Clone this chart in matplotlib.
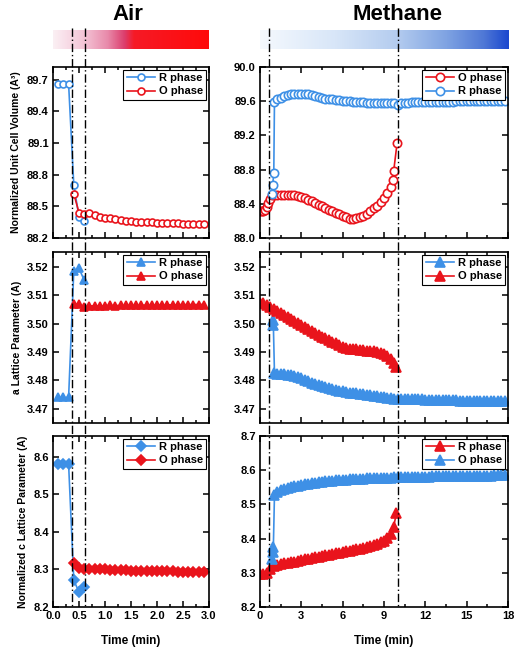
import matplotlib

matplotlib.use("Agg")
import matplotlib.pyplot as plt
import numpy as np
from matplotlib.colors import LinearSegmentedColormap
from matplotlib.lines import Line2D
from matplotlib.ticker import MultipleLocator
import matplotlib.transforms as mtransforms

plt.rcParams["font.family"] = ["Liberation Sans", "DejaVu Sans"]
plt.rcParams["font.weight"] = "bold"
plt.rcParams["axes.labelweight"] = "bold"

BLUE = "#3e90e6"
RED = "#e9141c"

# ---------------- Air (left column) ----------------
AIR_T_R = [0.1, 0.2, 0.3, 0.4, 0.5, 0.6]
AIR_T_O = [0.4, 0.5, 0.6, 0.7, 0.8, 0.9, 1.0, 1.1, 1.2, 1.3, 1.4, 1.5, 1.6,
           1.7, 1.8, 1.9, 2.0, 2.1, 2.2, 2.3, 2.4, 2.5, 2.6, 2.7, 2.8, 2.9]

AIR_VOL_R = [89.66, 89.66, 89.66, 88.70, 88.40, 88.36]
AIR_VOL_O = [88.62, 88.44, 88.43, 88.44, 88.42, 88.40, 88.39, 88.385, 88.38,
             88.37, 88.365, 88.36, 88.355, 88.355, 88.35, 88.35, 88.345,
             88.345, 88.34, 88.34, 88.34, 88.335, 88.335, 88.335, 88.33, 88.33]

AIR_A_R = [3.4740, 3.4740, 3.4740, 3.5186, 3.5194, 3.5153]
AIR_A_O = [3.5070, 3.5068, 3.5060, 3.5062, 3.5063, 3.5062, 3.5063, 3.5064,
           3.5063, 3.5064, 3.5064, 3.5065, 3.5064, 3.5065, 3.5065, 3.5065,
           3.5066, 3.5065, 3.5066, 3.5066, 3.5066, 3.5067, 3.5066, 3.5067,
           3.5067, 3.5067]

AIR_C_R = [8.580, 8.580, 8.580, 8.271, 8.240, 8.253]
AIR_C_O = [8.318, 8.305, 8.302, 8.302, 8.301, 8.300, 8.300, 8.299, 8.299,
           8.298, 8.298, 8.297, 8.297, 8.297, 8.296, 8.296, 8.296, 8.295,
           8.295, 8.295, 8.294, 8.294, 8.294, 8.293, 8.293, 8.292]

# ---------------- Methane (right column) ----------------
T_DENSE = [1.25, 1.5, 1.75, 2.0, 2.25, 2.5, 2.75, 3.0, 3.25, 3.5, 3.75, 4.0,
           4.25, 4.5, 4.75, 5.0, 5.25, 5.5, 5.75, 6.0, 6.25, 6.5, 6.75, 7.0,
           7.25, 7.5, 7.75, 8.0, 8.25, 8.5, 8.75, 9.0, 9.25, 9.5, 9.75, 10.0,
           10.25, 10.5, 10.75, 11.0, 11.25, 11.5, 11.75, 12.0, 12.25, 12.5,
           12.75, 13.0, 13.25, 13.5, 13.75, 14.0, 14.25, 14.5, 14.75, 15.0,
           15.25, 15.5, 15.75, 16.0, 16.25, 16.5, 16.75, 17.0, 17.25, 17.5,
           17.75]

# unit cell volume
CH4_VOL_R_T0 = [0.85, 0.92, 1.0, 1.05]
CH4_VOL_R_V0 = [88.52, 88.62, 88.76, 89.59]
CH4_VOL_R = [89.62, 89.64, 89.66, 89.67, 89.68, 89.69, 89.69, 89.69, 89.69,
             89.68, 89.67, 89.66, 89.65, 89.64, 89.63, 89.62, 89.62, 89.61,
             89.61, 89.60, 89.60, 89.60, 89.59, 89.59, 89.59, 89.585, 89.58,
             89.58, 89.58, 89.58, 89.58, 89.575, 89.575, 89.575, 89.575,
             89.56, 89.58, 89.58, 89.58, 89.585, 89.585, 89.585, 89.59, 89.59,
             89.59, 89.59, 89.59, 89.595, 89.595, 89.595, 89.595, 89.595,
             89.60, 89.60, 89.60, 89.60, 89.60, 89.60, 89.60, 89.60, 89.60,
             89.60, 89.60, 89.60, 89.60, 89.60, 89.60]

CH4_VOL_O_T0 = [0.0, 0.12, 0.25, 0.36, 0.5, 0.6, 0.75, 0.85, 1.0]
CH4_VOL_O_V0 = [88.31, 88.31, 88.32, 88.33, 88.36, 88.41, 88.46, 88.50, 88.50]
CH4_VOL_O = [88.50, 88.505, 88.505, 88.505, 88.50, 88.50, 88.49, 88.48,
             88.47, 88.45, 88.43, 88.41, 88.39, 88.37, 88.35, 88.33, 88.31,
             88.29, 88.28, 88.26, 88.24, 88.225, 88.225, 88.23, 88.245, 88.26,
             88.28, 88.31, 88.35, 88.38, 88.42, 88.47, 88.53, 88.60]
CH4_VOL_O_T1 = [9.62, 9.7, 9.95]
CH4_VOL_O_V1 = [88.68, 88.78, 89.11]

# a lattice parameter
CH4_A_R_T0 = [0.92, 0.97, 1.05]
CH4_A_R_V0 = [3.5012, 3.4994, 3.4826]
CH4_A_R = [3.4824, 3.4822, 3.4821, 3.4820, 3.4818, 3.4816, 3.4812, 3.4808,
           3.4803, 3.4797, 3.4792, 3.4787, 3.4783, 3.4779, 3.4776, 3.4772,
           3.4769, 3.4766, 3.4763, 3.4761, 3.4759, 3.4757, 3.4755, 3.4754,
           3.4752, 3.4751, 3.4749, 3.4748, 3.4746, 3.4745, 3.4743, 3.4741,
           3.4739, 3.4737, 3.4736, 3.4735, 3.4735, 3.4734, 3.4734, 3.4734,
           3.4733, 3.4733, 3.4733, 3.4732, 3.4732, 3.4732, 3.4731, 3.4731,
           3.4731, 3.4730, 3.4730, 3.4730, 3.4730, 3.4729, 3.4729, 3.4729,
           3.4729, 3.4728, 3.4728, 3.4728, 3.4728, 3.4728, 3.4727, 3.4727,
           3.4727, 3.4727, 3.4727]

CH4_A_O_T0 = [0.0, 0.25, 0.5, 0.75, 1.0]
CH4_A_O_V0 = [3.5073, 3.5071, 3.5065, 3.5057, 3.5050]
CH4_A_O = [3.5043, 3.5036, 3.5029, 3.5022, 3.5016, 3.5010, 3.5003, 3.4996,
           3.4989, 3.4982, 3.4975, 3.4968, 3.4961, 3.4954, 3.4948, 3.4942,
           3.4936, 3.4930, 3.4924, 3.4919, 3.4915, 3.4912, 3.4910, 3.4909,
           3.4908, 3.4907, 3.4905, 3.4904, 3.4902, 3.4899, 3.4896, 3.4892,
           3.4886, 3.4876]
CH4_A_O_T1 = [9.7, 9.9]
CH4_A_O_V1 = [3.4862, 3.4847]

# c lattice parameter
CH4_C_R_T0 = [0.0, 0.25, 0.5, 0.75, 1.0]
CH4_C_R_V0 = [8.297, 8.297, 8.298, 8.310, 8.320]
CH4_C_R = [8.324, 8.326, 8.328, 8.330, 8.332, 8.333, 8.335, 8.337, 8.339,
           8.341, 8.343, 8.345, 8.347, 8.349, 8.351, 8.353, 8.355, 8.357,
           8.359, 8.361, 8.363, 8.365, 8.367, 8.369, 8.371, 8.373, 8.376,
           8.379, 8.382, 8.385, 8.389, 8.394, 8.401, 8.412]
CH4_C_R_T1 = [9.7, 9.9]
CH4_C_R_V1 = [8.435, 8.474]

CH4_C_O_T0 = [0.85, 0.92, 0.97, 1.05]
CH4_C_O_V0 = [8.341, 8.360, 8.376, 8.527]
CH4_C_O = [8.535, 8.542, 8.545, 8.548, 8.551, 8.553, 8.555, 8.557, 8.559,
           8.561, 8.562, 8.564, 8.565, 8.566, 8.567, 8.568, 8.569, 8.570,
           8.571, 8.572, 8.572, 8.573, 8.574, 8.574, 8.575, 8.575, 8.576,
           8.576, 8.577, 8.577, 8.577, 8.578, 8.578, 8.578, 8.579, 8.579,
           8.579, 8.580, 8.580, 8.580, 8.580, 8.581, 8.581, 8.581, 8.581,
           8.582, 8.582, 8.582, 8.582, 8.582, 8.583, 8.583, 8.583, 8.583,
           8.583, 8.583, 8.584, 8.584, 8.584, 8.584, 8.584, 8.584, 8.584,
           8.585, 8.585, 8.585, 8.585]

AIR_EVENTS = [0.37, 0.62]
CH4_EVENTS = [0.65, 10.0]


def serie(t0, v0, vals, t1=(), v1=()):
    t = list(t0) + T_DENSE[:len(vals)] + list(t1)
    v = list(v0) + list(vals) + list(v1)
    return t, v


def estilo_ejes(ax, xmax, xmaj, xmin_, ylim, ymaj, fmt, xlabels):
    ax.set_xlim(0, xmax)
    ax.set_ylim(*ylim)
    ax.xaxis.set_major_locator(MultipleLocator(xmaj))
    ax.xaxis.set_minor_locator(MultipleLocator(xmin_))
    ax.yaxis.set_major_locator(MultipleLocator(ymaj))
    ax.tick_params(which="both", direction="in", top=True, right=True,
                   labelsize=8, width=1.1, pad=3)
    ax.tick_params(which="major", length=4)
    ax.tick_params(which="minor", length=2.5)
    ax.yaxis.set_major_formatter(plt.FormatStrFormatter(fmt))
    if xlabels:
        ax.xaxis.set_major_formatter(plt.FormatStrFormatter(xlabels))
        ax.set_xlabel("Time (min)", fontsize=8.5, labelpad=10)
    else:
        ax.tick_params(labelbottom=False)
    for s in ax.spines.values():
        s.set_linewidth(1.2)


def leyenda(ax):
    ax.legend(loc="upper right", fontsize=8, frameon=True, fancybox=False,
              edgecolor="black", framealpha=1, handlelength=2.6,
              borderpad=0.3, labelspacing=0.3, handletextpad=0.3,
              borderaxespad=0.25).get_frame().set_linewidth(0.8)


fig = plt.figure(figsize=(5.2, 6.51), dpi=100)
W, H = 520.0, 651.0
filas = [(67, 238), (252, 423), (436, 607)]
col_izq = (53, 209)
col_der = (260, 508)


def crear(col, fila):
    x0, x1 = col
    y0, y1 = fila
    return fig.add_axes([x0 / W, 1 - y1 / H, (x1 - x0) / W, (y1 - y0) / H])


kw_o = dict(lw=1.2, mew=1.2)

# --- Air volume
ax = crear(col_izq, filas[0])
ax.plot(AIR_T_R, AIR_VOL_R, "-o", color=BLUE, mfc="white", ms=5, label="R phase", **kw_o)
ax.plot(AIR_T_O, AIR_VOL_O, "-o", color=RED, mfc="white", ms=5, label="O phase", **kw_o)
estilo_ejes(ax, 3.0, 0.5, 0.25, (88.2, 89.82), 0.3, "%.1f", None)
ax.set_ylabel("Normalized Unit Cell Volume (A\u00b3)", fontsize=7.5, labelpad=4)
leyenda(ax)

# --- Air a
ax = crear(col_izq, filas[1])
ax.plot(AIR_T_R, AIR_A_R, "-^", color=BLUE, ms=6, label="R phase", **kw_o)
ax.plot(AIR_T_O, AIR_A_O, "-^", color=RED, ms=6, label="O phase", **kw_o)
estilo_ejes(ax, 3.0, 0.5, 0.25, (3.465, 3.5252), 0.01, "%.2f", None)
ax.set_ylabel("a Lattice Parameter (A)", fontsize=7.5, labelpad=4)
leyenda(ax)

# --- Air c
ax = crear(col_izq, filas[2])
ax.plot(AIR_T_R, AIR_C_R, "-D", color=BLUE, ms=5, label="R phase", **kw_o)
ax.plot(AIR_T_O, AIR_C_O, "-D", color=RED, ms=5, label="O phase", **kw_o)
estilo_ejes(ax, 3.0, 0.5, 0.25, (8.2, 8.655), 0.1, "%.1f", "%.1f")
ax.set_ylabel("Normalized c Lattice Parameter (A)", fontsize=7.5, labelpad=4)
leyenda(ax)
ax_air_bot = ax

# --- Methane volume
ax = crear(col_der, filas[0])
t, v = serie(CH4_VOL_O_T0, CH4_VOL_O_V0, CH4_VOL_O, CH4_VOL_O_T1, CH4_VOL_O_V1)
ax.plot(t, v, "-o", color=RED, mfc="white", ms=6, label="O phase", **kw_o)
t, v = serie(CH4_VOL_R_T0, CH4_VOL_R_V0, CH4_VOL_R)
ax.plot(t, v, "-o", color=BLUE, mfc="white", ms=6, label="R phase", **kw_o)
estilo_ejes(ax, 18, 3, 1.5, (88.0, 90.0), 0.4, "%.1f", None)
leyenda(ax)
ax_ch4_top = ax

# --- Methane a
ax = crear(col_der, filas[1])
t, v = serie(CH4_A_R_T0, CH4_A_R_V0, CH4_A_R)
ax.plot(t, v, "-^", color=BLUE, ms=7, label="R phase", **kw_o)
t, v = serie(CH4_A_O_T0, CH4_A_O_V0, CH4_A_O, CH4_A_O_T1, CH4_A_O_V1)
ax.plot(t, v, "-^", color=RED, ms=7, label="O phase", **kw_o)
estilo_ejes(ax, 18, 3, 1.5, (3.465, 3.5252), 0.01, "%.2f", None)
leyenda(ax)

# --- Methane c
ax = crear(col_der, filas[2])
t, v = serie(CH4_C_R_T0, CH4_C_R_V0, CH4_C_R, CH4_C_R_T1, CH4_C_R_V1)
ax.plot(t, v, "-^", color=RED, ms=7, label="R phase", **kw_o)
t, v = serie(CH4_C_O_T0, CH4_C_O_V0, CH4_C_O)
ax.plot(t, v, "-^", color=BLUE, ms=7, label="O phase", **kw_o)
estilo_ejes(ax, 18, 3, 1.5, (8.2, 8.7), 0.1, "%.1f", "%d")
leyenda(ax)

# --- gradient bars
cmap_air = LinearSegmentedColormap.from_list(
    "air", [(0.0, "#fbf0f4"), (0.2, "#f4c4d6"), (0.35, "#e88aaa"),
            (0.46, "#dc3d6c"), (0.52, "#f61a26"), (1.0, "#ff0a0a")])
cmap_ch4 = LinearSegmentedColormap.from_list(
    "ch4", [(0.0, "#f5f9fe"), (0.3, "#d8e6f8"), (0.55, "#b4ccef"),
            (0.75, "#7fa3e2"), (0.9, "#4f78d6"), (1.0, "#1b48cf")])
grad = np.linspace(0, 1, 256).reshape(1, -1)
for (x0, x1), cmap, titulo, tx in [(col_izq, cmap_air, "Air", 128),
                                   (col_der, cmap_ch4, "Methane", 397)]:
    bar = fig.add_axes([x0 / W, 1 - 49 / H, (x1 - x0) / W, 19 / H])
    bar.imshow(grad, aspect="auto", cmap=cmap)
    bar.axis("off")
    fig.text(tx / W, 1 - 14 / H, titulo, ha="center", va="center",
             fontsize=16, fontweight="bold")

# --- dash-dot event lines across the whole column
for ax_ref, eventos in [(ax_air_bot, AIR_EVENTS), (ax_ch4_top, CH4_EVENTS)]:
    tr = mtransforms.blended_transform_factory(ax_ref.transData, fig.transFigure)
    for xe in eventos:
        fig.add_artist(Line2D([xe, xe], [1 - 28 / H, 1 - 607 / H], transform=tr,
                              color="black", lw=1.0,
                              linestyle=(0, (6, 2, 1, 2)), zorder=5))

fig.savefig("out.png", dpi=100, facecolor="white")
